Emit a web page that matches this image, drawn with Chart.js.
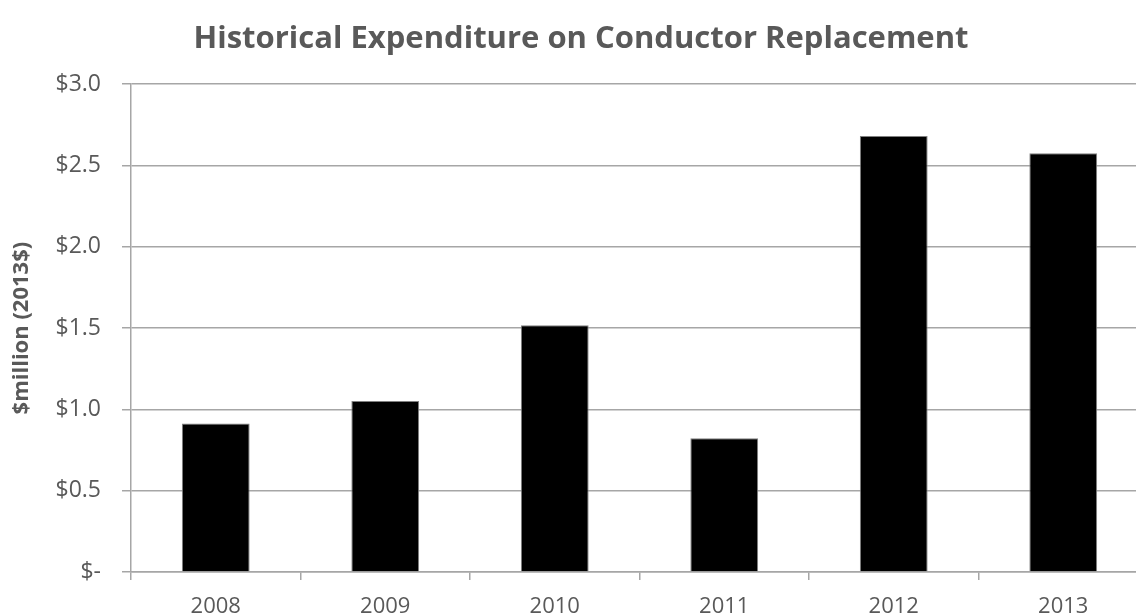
<!DOCTYPE html>
<html>
<head>
<meta charset="utf-8">
<title>Historical Expenditure on Conductor Replacement</title>
<script src="https://cdn.jsdelivr.net/npm/chart.js@4/dist/chart.umd.min.js"></script>
<style>
  html, body { margin: 0; padding: 0; background: #ffffff; overflow: hidden; }
  #wrap { width: 1150px; height: 616px; }
</style>
</head>
<body>
<div id="wrap"><canvas id="chart" width="1150" height="616"></canvas></div>
<script>
// Annual spend on conductor replacement, $million in 2013 dollars
const years = ['2008', '2009', '2010', '2011', '2012', '2013'];
const spend = [0.914, 1.052, 1.517, 0.822, 2.681, 2.575];

// Value axis ticks
const yTickValues = [0, 0.5, 1.0, 1.5, 2.0, 2.5, 3.0];
const yTickLabels = ['$-', '$0.5', '$1.0', '$1.5', '$2.0', '$2.5', '$3.0'];

const textGrey = '#595959';
const lineGrey = '#a6a6a6';
const fontFamily = '"Open Sans", "Noto Sans", sans-serif';

new Chart(document.getElementById('chart'), {
  type: 'bar',
  data: {
    labels: years,
    datasets: [{
      data: spend,
      backgroundColor: '#000000',
      borderColor: '#808080',
      borderWidth: 1,
      barPercentage: 0.4,
      categoryPercentage: 1.0
    }]
  },
  options: {
    responsive: false,
    animation: false,
    layout: { padding: { left: 14, right: 2, top: 0, bottom: 0 } },
    plugins: {
      legend: { display: false },
      tooltip: { enabled: false },
      title: {
        display: true,
        text: 'Historical Expenditure on Conductor Replacement',
        color: textGrey,
        font: { family: fontFamily, size: 31, weight: 'bold', lineHeight: 1.2 },
        padding: { top: 21, bottom: 26 }
      }
    },
    scales: {
      x: {
        type: 'category',
        grid: {
          display: true,
          drawOnChartArea: false,
          drawTicks: true,
          tickLength: 8,
          color: lineGrey,
          lineWidth: 1.5
        },
        border: { display: true, color: lineGrey, width: 1.5 },
        ticks: {
          color: textGrey,
          font: { family: fontFamily, size: 22 },
          padding: 14,
          maxRotation: 0
        },
        afterFit(scale) { scale.height = 44; }
      },
      y: {
        min: 0,
        max: 3.0,
        afterBuildTicks(scale) {
          scale.ticks = yTickValues.map(v => ({ value: v }));
        },
        grid: {
          color: lineGrey,
          lineWidth: 1.5,
          drawTicks: true,
          tickLength: 9
        },
        border: { display: true, color: lineGrey, width: 1.5 },
        ticks: {
          color: textGrey,
          font: { family: fontFamily, size: 23 },
          padding: 21,
          callback(value) {
            const i = yTickValues.indexOf(value);
            return i >= 0 ? yTickLabels[i] : '';
          }
        },
        title: {
          display: true,
          text: '$million (2013$)',
          color: textGrey,
          font: { family: fontFamily, size: 22, weight: 'bold', lineHeight: 1.0 },
          padding: { top: -3, bottom: 0 }
        },
        afterFit(scale) { scale.width = 117; }
      }
    }
  }
});
</script>
</body>
</html>
